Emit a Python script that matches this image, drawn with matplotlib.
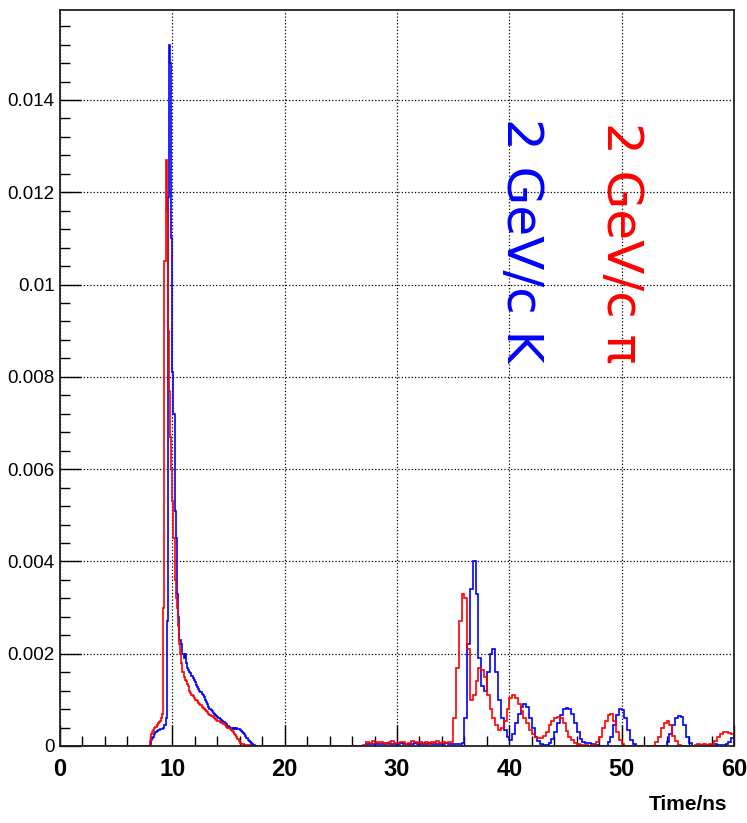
import numpy as np
import matplotlib
matplotlib.use("Agg")
from matplotlib import pyplot as plt
from matplotlib.ticker import MultipleLocator, FuncFormatter

# Histogram binning: fine bins around the prompt peak, coarser bins for the late peaks
peak_start = 8.0
peak_width = 0.1
late_start = 27.0
late_width = 0.25

# 2 GeV/c pion, 8.0 - 18.0 ns
pi_peak = [
    0.0001, 0.00025, 0.0003, 0.00035, 0.0004, 0.00042, 0.00045, 0.0005, 0.00052, 0.00055,
    0.0006, 0.0007, 0.0030, 0.0105, 0.0127, 0.0116, 0.0090, 0.0077, 0.0067, 0.0060,
    0.0053, 0.0045, 0.0036, 0.0032, 0.0030, 0.0026, 0.0022, 0.0020, 0.0018, 0.0016,
    0.0015, 0.00143, 0.0014, 0.00135, 0.0013, 0.0012, 0.00115, 0.0011, 0.00108, 0.00105,
    0.0010, 0.0010, 0.00097, 0.00093, 0.0009, 0.00088, 0.00085, 0.00083, 0.0008, 0.00078,
    0.00076, 0.00073, 0.0007, 0.00068, 0.00066, 0.00064, 0.00062, 0.0006, 0.00058, 0.00057,
    0.00055, 0.00054, 0.00052, 0.0005, 0.00049, 0.00048, 0.00047, 0.00045, 0.00042, 0.0004,
    0.00038, 0.00036, 0.00034, 0.00032, 0.0003, 0.00027, 0.00024, 0.0002, 0.00015, 0.0001,
    0.00007, 0.00005, 0.00004, 0.00004, 0.00003, 0.00003, 0.00003, 0.00002, 0.00002, 0.00002,
    0.00001, 0, 0, 0, 0, 0, 0, 0, 0, 0,
]

# 2 GeV/c kaon, 8.0 - 18.0 ns
k_peak = [
    0.00005, 0.00012, 0.00017, 0.0002, 0.00025, 0.0003, 0.00033, 0.00035, 0.00035, 0.00036,
    0.00037, 0.00037, 0.0004, 0.00045, 0.0006, 0.0027, 0.0119, 0.0152, 0.0148, 0.0110,
    0.0081, 0.0072, 0.0051, 0.0045, 0.0033, 0.0028, 0.0023, 0.0023, 0.0022, 0.0020,
    0.0019, 0.0020, 0.0018, 0.0017, 0.00165, 0.0016, 0.00158, 0.00152, 0.00148, 0.00142,
    0.00138, 0.00132, 0.00128, 0.00124, 0.0012, 0.00117, 0.00113, 0.0011, 0.00106, 0.0010,
    0.00095, 0.0009, 0.00085, 0.0008, 0.00078, 0.00075, 0.00072, 0.0007, 0.00067, 0.00065,
    0.00063, 0.00061, 0.00059, 0.00057, 0.00055, 0.00053, 0.00052, 0.0005, 0.00047, 0.00044,
    0.00042, 0.0004, 0.00039, 0.00038, 0.00037, 0.00038, 0.00036, 0.00038, 0.00037, 0.00036,
    0.00035, 0.00033, 0.0003, 0.00028, 0.00025, 0.00022, 0.00018, 0.00014, 0.0001, 0.00008,
    0.00006, 0.00004, 0.00003, 0.00002, 0.00001, 0, 0, 0, 0, 0,
]

# 2 GeV/c pion, 27.0 - 60.0 ns
pi_late = [
    0.00003,
    0.00008, 0.00007, 0.0001, 0.00006, 0.00008, 0.00009, 0.00007, 0.00005, 0.00008, 0.0001,
    0.00007, 0.00006, 0.00009, 0.00008, 0.00005, 0.00007, 0.0001, 0.00008, 0.00006, 0.00009,
    0.00007, 0.00008, 0.00005, 0.00009, 0.00007, 0.0001, 0.00006, 0.00008, 0.00007, 0.00009,
    0.00008,
    0.0006, 0.0017, 0.0027, 0.0033, 0.0032, 0.0021, 0.0010, 0.0011, 0.0014, 0.0017,
    0.00165, 0.0015, 0.0011, 0.0008, 0.0006, 0.00045, 0.00035, 0.0004, 0.00055, 0.0008,
    0.00105, 0.0011, 0.00105, 0.0009, 0.00075, 0.0006, 0.0005, 0.00035, 0.00025, 0.0002,
    0.00017, 0.00018, 0.00022, 0.0003, 0.00045, 0.00055, 0.0006, 0.00062, 0.0006, 0.0005,
    0.00032, 0.0002, 0.00012, 0.00007, 0.00004, 0.00002, 0.00002, 0.00002, 0.00001, 0.00002,
    0.00003, 0.00008, 0.0002, 0.00038, 0.00055, 0.00068, 0.0007, 0.00055, 0.0003, 0.00012,
    0.00005, 0.00001,
    0, 0, 0, 0, 0, 0, 0, 0, 0, 0,
    0.00008, 0.0002, 0.0004, 0.0005, 0.00055, 0.00045, 0.00022, 0.0001, 0.00003,
    0, 0, 0, 0, 0,
    0.00003, 0.00004, 0.00003, 0.00004, 0.00003, 0.00004, 0.00003,
    0.0001, 0.0002, 0.00026, 0.0003, 0.0003, 0.00028, 0.00026,
]

# 2 GeV/c kaon, 27.0 - 60.0 ns
k_late = [
    0,
    0.00004, 0.00005, 0.00004, 0.00006, 0.00005, 0.00004, 0.00005, 0.00006, 0.00004, 0.00005,
    0.00005, 0.00004, 0.00006, 0.00005, 0.00004, 0.00005, 0.00005, 0.00006, 0.00004, 0.00005,
    0.00004, 0.00005, 0.00006, 0.00005, 0.00004, 0.00005, 0.00005, 0.00004, 0.00006, 0.00005,
    0.00004, 0.00005, 0.00005, 0.00004,
    0.00006, 0.0006, 0.0022, 0.0034, 0.0040, 0.0033, 0.0019, 0.0013, 0.0012, 0.0016,
    0.0020, 0.0021, 0.0016, 0.0010, 0.0006, 0.00035, 0.0002, 0.00013, 0.00025, 0.0005,
    0.0007, 0.00085, 0.0009, 0.00085, 0.0006, 0.0004, 0.0002, 0.0001, 0.00005, 0.00002,
    0.00002, 0.00006, 0.00015, 0.0003, 0.0005, 0.00068, 0.0008, 0.00082, 0.0008, 0.0007,
    0.0005, 0.0003, 0.00015, 0.00008, 0.00006, 0.00006, 0.00004, 0.00003, 0.00002,
    0, 0, 0,
    0.00008, 0.0002, 0.00045, 0.00068, 0.0008, 0.00078, 0.0006, 0.00035, 0.00012, 0.00004,
    0, 0, 0, 0, 0, 0, 0, 0, 0, 0, 0,
    0.00008, 0.00025, 0.00045, 0.0006, 0.00065, 0.00062, 0.00045, 0.0002, 0.00006,
    0, 0, 0, 0, 0, 0,
    0.00003, 0.00002, 0.00004, 0.00003, 0.00002, 0.00003, 0.00004,
    0.00008, 0.00017,
]

x_min, x_max = 0, 60
y_max = 0.01595


def hist_edges(peak, late):
    # empty bin from 0 up to the first segment, and another between the segments
    peak_edges = peak_start + peak_width * np.arange(len(peak) + 1)
    late_edges = late_start + late_width * np.arange(len(late) + 1)
    edges = np.concatenate([[x_min], peak_edges, late_edges])
    values = np.concatenate([[0], peak, [0], late])
    return edges, values


plt.rcParams['font.family'] = ['Liberation Sans', 'DejaVu Sans']

fig = plt.figure(figsize=(7.47, 8.23), dpi=100)
ax = fig.add_axes([60 / 747, 77 / 823, 674 / 747, 736 / 823])

# Kaon first, pion drawn on top
edges, values = hist_edges(k_peak, k_late)
ax.stairs(values, edges, color='blue', linewidth=1.2)
edges, values = hist_edges(pi_peak, pi_late)
ax.stairs(values, edges, color='red', linewidth=1.2)

ax.set_xlim(x_min, x_max)
ax.set_ylim(0, y_max)

# ROOT-like ticks: inside, left and bottom only
ax.xaxis.set_major_locator(MultipleLocator(10))
ax.xaxis.set_minor_locator(MultipleLocator(2))
ax.yaxis.set_major_locator(MultipleLocator(0.002))
ax.yaxis.set_minor_locator(MultipleLocator(0.0004))
ax.yaxis.set_major_formatter(FuncFormatter(lambda v, p: '%g' % round(v, 4)))
ax.tick_params(which='both', direction='in', top=False, right=False, colors='black')
ax.tick_params(which='major', length=15, width=1.0)
ax.tick_params(which='minor', length=7.5, width=1.0)
ax.tick_params(axis='y', labelsize=13.5, pad=4)
ax.tick_params(axis='x', labelsize=17, pad=9)
for lab in ax.get_xticklabels():
    lab.set_fontweight('bold')

for s in ax.spines.values():
    s.set_linewidth(1.3)
    s.set_color('#222222')

# Dotted grid at the major ticks
ax.grid(True, which='major', linestyle=':', color='black', linewidth=0.9)
ax.set_axisbelow(True)

# Axis title
ax.text(0.99, -0.08, 'Time/ns', transform=ax.transAxes, ha='right', va='center',
        fontsize=15, fontweight='bold')

# Vertical labels
ax.text(49.9, 0.01352, '2 GeV/c \u03c0', color='red', rotation=270,
        ha='center', va='top', fontsize=36, family=['DejaVu Sans'])
ax.text(41.0, 0.01362, '2 GeV/c K', color='blue', rotation=270,
        ha='center', va='top', fontsize=36, family=['DejaVu Sans'])

fig.savefig('out.png', dpi=100)
